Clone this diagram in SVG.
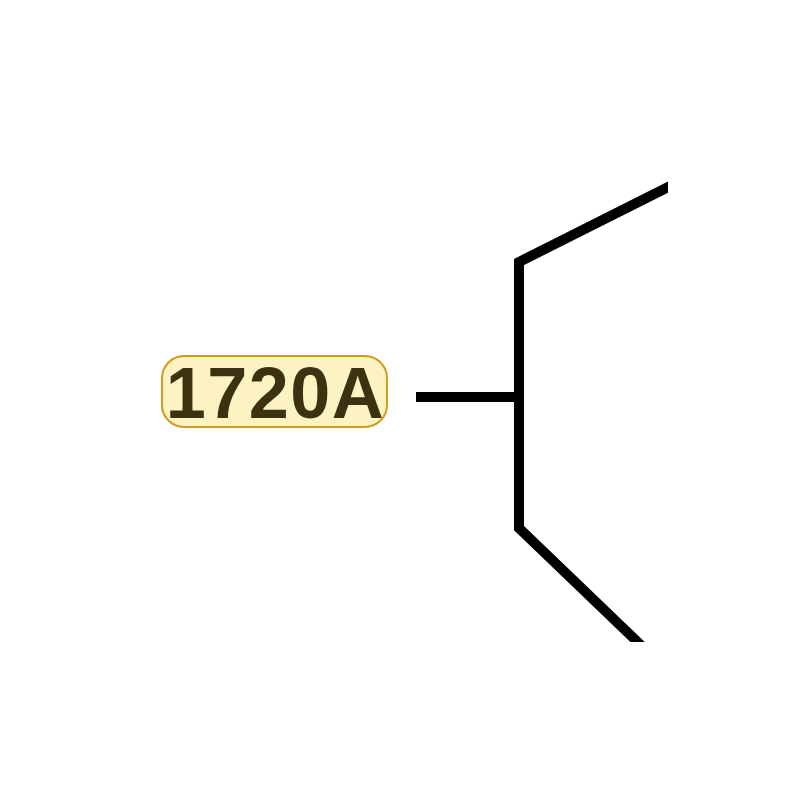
<svg xmlns="http://www.w3.org/2000/svg" width="800" height="800" viewBox="0 0 800 800">
<style>
.ln{fill:none;stroke:#000;stroke-width:10;stroke-linejoin:miter}
.lbl{fill:#fdf3c2;stroke:#d49a20;stroke-width:2}
.t{font-family:"Liberation Sans",Arial,sans-serif;font-weight:bold;font-size:72px;letter-spacing:1.5px;fill:#3a3210}
</style>
<rect width="800" height="800" fill="#fff"/>
<defs><clipPath id="c"><rect x="0" y="0" width="668" height="642"/></clipPath></defs>
<g id="connectors">
<polyline class="ln" clip-path="url(#c)" points="680,181 519,262 519,528 648,652"/>
<line class="ln" x1="416" y1="397" x2="519" y2="397"/>
</g>
<g id="label-1720A">
<rect class="lbl" x="162" y="356" width="225" height="71" rx="22"/>
<text class="t" x="275.5" y="418" text-anchor="middle">1720A</text>
</g>
</svg>
